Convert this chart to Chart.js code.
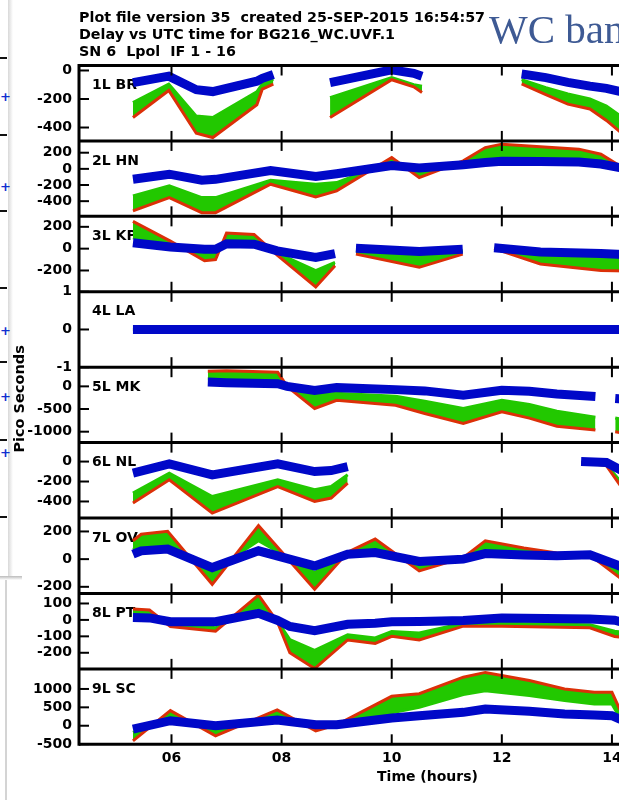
<!DOCTYPE html>
<html>
<head>
<meta charset="utf-8">
<script src="https://cdn.jsdelivr.net/npm/chart.js@4/dist/chart.umd.min.js"></script>
<style>
  body { margin: 0; width: 619px; height: 800px; overflow: hidden; background: #fff; position: relative; }
  #wrap { position: absolute; left: 0; top: 0; width: 780px; height: 800px; }
  .title { position: absolute; left: 79px; font: bold 14.3px 'DejaVu Sans', sans-serif; color: #000; white-space: pre; line-height: 16px; }
  .stamp { position: absolute; left: 489px; top: 5px; font: 41px 'Liberation Serif', serif; color: #3e5a94; white-space: pre; line-height: 48px; }
  .dash { position: absolute; left: 0; width: 7px; height: 2px; background: #111; }
  .mark { position: absolute; left: 0; font: bold 13px 'DejaVu Sans', sans-serif; color: #1030d0; line-height: 13px; }
  .shade { position: absolute; left: 8px; top: 0; width: 5px; height: 578px; background: linear-gradient(to right, #d8d8d8, #fff); }
  .edge { position: absolute; left: 5px; top: 580px; width: 2px; height: 220px; background: #d4d4d4; }
  .band { position: absolute; left: 0; top: 576px; width: 22px; height: 4px; background: linear-gradient(#bbb, #fff); }
</style>
</head>
<body>
<div class="shade"></div>
<div class="band"></div>
<div class="edge"></div>
<div class="dash" style="top:57px"></div>
<div class="dash" style="top:134px"></div>
<div class="dash" style="top:210px"></div>
<div class="dash" style="top:287px"></div>
<div class="dash" style="top:361px"></div>
<div class="dash" style="top:439px"></div>
<div class="dash" style="top:516px"></div>
<div class="mark" style="top:90px">+</div>
<div class="mark" style="top:180px">+</div>
<div class="mark" style="top:324px">+</div>
<div class="mark" style="top:390px">+</div>
<div class="mark" style="top:446px">+</div>
<div id="wrap"><canvas id="delayChart" width="780" height="800"></canvas></div>
<div class="title" style="top:9px">Plot file version 35  created 25-SEP-2015 16:54:57</div>
<div class="title" style="top:26px">Delay vs UTC time for BG216_WC.UVF.1</div>
<div class="title" style="top:43px">SN 6  Lpol  IF 1 - 16</div>
<div class="stamp">WC ban</div>
<script>
// per antenna: time (hours), outer IF edge (red), inner IF edge (green), upper IFs (blue)
const brTime  = [5.3, 5.95, 6.45, 6.75, 7.55, 7.65, 7.85, 8.4, 8.88, 10.0, 10.4, 10.55, 11.5, 12.36, 12.8, 13.2, 13.6, 13.9, 14.3];
const brRed   = [-330, -140, -440, -470, -240, -130, -95, null, -330, -65, -115, -155, null, -94, -170, -236, -270, -350, -480];
const brGreen = [-225, -95, -320, -330, -150, -95, -60, null, -190, -50, -100, -110, null, -64, -120, -165, -200, -250, -360];
const brBlue  = [-85, -40, -135, -148, -75, -55, -28, null, -85, 5, -20, -40, null, -25, -50, -83, -110, -125, -160];

const hnTime  = [5.3, 5.96, 6.55, 6.8, 7.8, 8.62, 9.0, 10.0, 10.5, 11.3, 11.7, 12.0, 12.7, 13.4, 13.8, 14.14, 14.3];
const hnRed   = [-520, -356, -542, -542, -190, -347, -273, 140, -108, 99, 264, 306, 275, 244, 182, 37, -20];
const hnGreen = [-335, -211, -356, -356, -140, -190, -170, 90, 0, 60, 110, 130, 120, 115, 95, 30, 0];
const hnBlue  = [-128, -66, -140, -130, -20, -95, -60, 40, 10, 50, 80, 95, 90, 85, 60, 16, -10];

const kpTime  = [5.3, 5.98, 6.6, 6.8, 7.0, 7.5, 7.92, 8.62, 8.97, 9.15, 9.35, 10.5, 11.29, 11.6, 11.86, 12.7, 13.8, 14.3];
const kpRed   = [250, 69, -111, -100, 144, 130, -60, -351, -156, null, -50, -171, -50, null, 0, -140, -200, -205];
const kpGreen = [100, 20, -30, -30, 69, 69, -40, -201, -126, null, -20, -60, -20, null, -5, -60, -70, -75];
const kpBlue  = [54, 15, -5, -5, 45, 40, -21, -81, -45, null, 4, -27, -5, null, 9, -30, -45, -55];

const laTime  = [5.3, 14.3];
const laRed   = [0, 0];
const laGreen = [0, 0];
const laBlue  = [0, 0];

const mkTime  = [6.66, 7.0, 7.93, 8.1, 8.6, 9.0, 10.07, 10.6, 11.3, 12.0, 12.5, 13.0, 13.7, 13.9, 14.06, 14.3];
const mkRed   = [335, 345, 310, 0, -489, -307, -416, -600, -817, -562, -700, -880, -964, null, -1000, -1050];
const mkGreen = [169, 180, 170, 0, -197, -153, -219, -330, -489, -307, -400, -550, -680, null, -700, -750];
const mkBlue  = [94, 80, 59, 0, -88, -28, -72, -100, -197, -88, -110, -170, -225, null, -270, -290];

const nlTime  = [5.3, 5.96, 6.74, 7.93, 8.6, 8.9, 9.2, 11.0, 13.44, 13.9, 14.14, 14.3];
const nlRed   = [-416, -183, -516, -250, -400, -366, -216, null, -10, -40, -230, -330];
const nlGreen = [-316, -116, -350, -183, -283, -250, -133, null, -5, -30, -190, -280];
const nlBlue  = [-116, -23, -133, -23, -100, -90, -50, null, 0, -10, -80, -120];

const ovTime  = [5.3, 5.45, 5.93, 6.74, 7.58, 8.6, 9.2, 9.7, 10.5, 11.3, 11.7, 12.4, 13.0, 13.6, 14.14, 14.3];
const ovRed   = [133, 180, 201, -182, 242, -218, 50, 145, -85, 10, 133, 80, 45, 30, -134, -190];
const ovGreen = [70, 95, 99, -85, 133, -97, 40, 70, -30, 5, 80, 50, 35, 30, -80, -120];
const ovBlue  = [36, 60, 73, -61, 60, -49, 36, 48, -17, 0, 40, 30, 25, 31, -49, -80];

const ptTime  = [5.3, 5.6, 5.98, 6.8, 7.58, 7.92, 8.15, 8.6, 9.2, 9.7, 10.0, 10.5, 11.3, 12.0, 13.6, 14.05, 14.3];
const ptRed   = [67, 60, -40, -69, 151, -10, -200, -296, -122, -143, -100, -122, -38, -38, -48, -101, -110];
const ptGreen = [40, 38, -20, -48, 78, -5, -120, -185, -90, -110, -70, -80, -20, -20, -30, -69, -80];
const ptBlue  = [15, 12, -11, -11, 40, -2, -40, -65, -27, -20, -11, -10, -4, 11, 5, -2, -25];

const scTime  = [5.3, 5.98, 6.8, 7.92, 8.62, 9.0, 10.0, 10.5, 11.3, 11.7, 12.5, 13.14, 13.68, 14.0, 14.14, 14.3];
const scRed   = [-410, 410, -273, 428, -137, 27, 800, 870, 1320, 1450, 1228, 1000, 910, 910, 450, 250];
const scGreen = [-182, 180, -91, 240, 27, 27, 350, 500, 850, 950, 819, 683, 592, 592, 230, 150];
const scBlue  = [-91, 137, 0, 155, 27, 27, 210, 270, 364, 455, 391, 319, 290, 273, 182, 100];

const stationNames = ['1L BR', '2L HN', '3L KP', '4L LA', '5L MK', '6L NL', '7L OV', '8L PT', '9L SC'];
const yRanges = [[-494, 35], [-588, 346], [-395, 296], [-1, 1], [-1241, 423], [-566, 190], [-248, 297], [-298, 161], [-505, 1546]];
const yTicks = [[0, -200, -400], [200, 0, -200, -400], [200, 0, -200], [1, 0, -1], [0, -500, -1000],
                [0, -200, -400], [200, 0, -200], [100, 0, -100, -200], [1000, 500, 0, -500]];
const hourTicks = [6, 8, 10, 12, 14, 16];

const panels = [
    { time: brTime, red: brRed, green: brGreen, blue: brBlue },
    { time: hnTime, red: hnRed, green: hnGreen, blue: hnBlue },
    { time: kpTime, red: kpRed, green: kpGreen, blue: kpBlue },
    { time: laTime, red: laRed, green: laGreen, blue: laBlue },
    { time: mkTime, red: mkRed, green: mkGreen, blue: mkBlue },
    { time: nlTime, red: nlRed, green: nlGreen, blue: nlBlue },
    { time: ovTime, red: ovRed, green: ovGreen, blue: ovBlue },
    { time: ptTime, red: ptRed, green: ptGreen, blue: ptBlue },
    { time: scTime, red: scRed, green: scGreen, blue: scBlue }
];

const RED = '#dc3008';
const GREEN = '#22c800';
const BLUE = '#0008c8';
const FONT = { family: 'DejaVu Sans', size: 14, weight: 'bold' };

function points(time, vals) {
    return time.map((t, i) => ({ x: t, y: vals[i] }));
}

const datasets = [];
panels.forEach((p, i) => {
    const axis = 'y' + (i + 1);
    datasets.push({ label: stationNames[i] + ' IF 1', data: points(p.time, p.red), yAxisID: axis,
        borderColor: RED, borderWidth: 3, pointRadius: 0, order: 1 });
    datasets.push({ label: stationNames[i] + ' IF 8', data: points(p.time, p.green), yAxisID: axis,
        borderColor: GREEN, backgroundColor: GREEN, borderWidth: 3, pointRadius: 0, fill: '-1', order: 2 });
    datasets.push({ label: stationNames[i] + ' IF 16', data: points(p.time, p.blue), yAxisID: axis,
        borderColor: BLUE, borderWidth: 9, pointRadius: 0, order: 0 });
});

const scales = {
    x: {
        type: 'linear', position: 'bottom', min: 4.32, max: 16.98,
        grid: { display: false, drawTicks: false }, border: { display: false },
        afterBuildTicks: s => { s.ticks = hourTicks.map(v => ({ value: v })); },
        afterFit: s => { s.height = 41; },
        ticks: { color: '#000', font: FONT, padding: 6, autoSkip: false, maxRotation: 0,
                 callback: v => (v < 10 ? '0' : '') + v },
        title: { display: true, text: 'Time (hours)', color: '#000', font: FONT, padding: { top: 1, bottom: 0 } }
    }
};
// the last stacked axis defined ends up on top, so add panel 9 first
for (let i = panels.length - 1; i >= 0; i--) {
    const tv = yTicks[i];
    scales['y' + (i + 1)] = {
        type: 'linear', position: 'left', stack: 'panels', stackWeight: 1,
        min: yRanges[i][0], max: yRanges[i][1],
        grid: { display: false, drawTicks: false }, border: { display: false },
        afterBuildTicks: s => { s.ticks = tv.map(v => ({ value: v })); },
        afterFit: s => { s.width = 79; },
        ticks: { color: '#000', font: FONT, padding: 7, autoSkip: false, callback: v => String(v) }
    };
}

function line(ctx, x1, y1, x2, y2) {
    ctx.beginPath();
    ctx.moveTo(x1, y1);
    ctx.lineTo(x2, y2);
    ctx.stroke();
}

const panelFrame = {
    id: 'panelFrame',
    beforeDatasetsDraw(chart) {
        const { ctx, chartArea } = chart;
        ctx.save();
        ctx.font = 'bold 14px "DejaVu Sans"';
        ctx.fillStyle = '#000';
        ctx.textBaseline = 'middle';
        stationNames.forEach((name, i) => {
            ctx.fillText(name, chartArea.left + 13, chart.scales['y' + (i + 1)].top + 20);
        });
        ctx.restore();
    },
    afterDatasetsDraw(chart) {
        const { ctx, chartArea: a, scales: sc } = chart;
        ctx.save();
        ctx.strokeStyle = '#000';
        ctx.lineWidth = 2;
        stationNames.forEach((n, i) => {
            const s = sc['y' + (i + 1)];
            s.ticks.forEach(t => {
                const y = s.getPixelForValue(t.value);
                line(ctx, a.left, y, a.left + 10, y);
            });
        });
        const edges = stationNames.map((n, i) => sc['y' + (i + 1)].top).concat(a.bottom);
        edges.forEach((y, k) => {
            const up = k === 0 ? 0 : 10;
            const down = k === edges.length - 1 ? 0 : 10;
            sc.x.ticks.forEach(t => {
                const px = sc.x.getPixelForValue(t.value);
                line(ctx, px, y - up, px, y + down);
            });
        });
        ctx.lineWidth = 3;
        edges.forEach(y => line(ctx, a.left, y, a.right, y));
        line(ctx, a.left, a.top - 1.5, a.left, a.bottom + 1.5);

        ctx.translate(20, (a.top + a.bottom) / 2 - 6);
        ctx.rotate(-Math.PI / 2);
        ctx.font = 'bold 14.5px "DejaVu Sans"';
        ctx.fillStyle = '#000';
        ctx.textAlign = 'center';
        ctx.textBaseline = 'middle';
        ctx.fillText('Pico Seconds', 0, 0);
        ctx.restore();
    }
};

new Chart(document.getElementById('delayChart'), {
    type: 'line',
    data: { datasets },
    options: {
        responsive: false,
        animation: false,
        devicePixelRatio: 1,
        layout: { padding: { top: 65.5, left: 0, right: 4, bottom: 14.7 } },
        elements: { line: { tension: 0, borderCapStyle: 'butt' } },
        plugins: { legend: { display: false }, tooltip: { enabled: false } },
        scales
    },
    plugins: [panelFrame]
});
</script>
</body>
</html>
